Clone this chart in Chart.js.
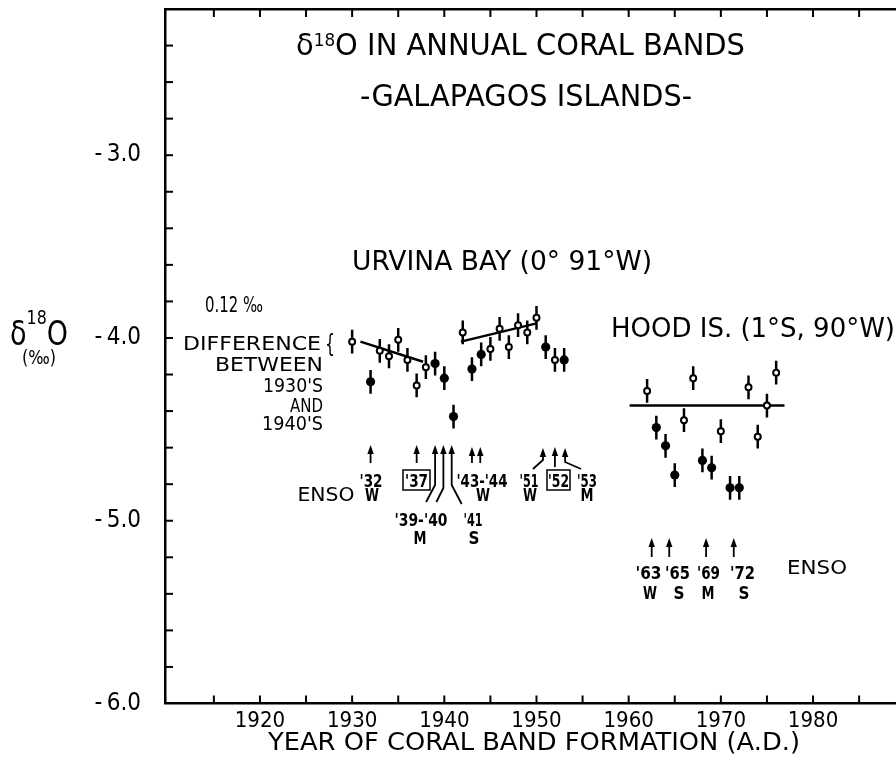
<!DOCTYPE html>
<html lang="en">
<head>
<meta charset="UTF-8">
<title>d18O in annual coral bands</title>
<script src="https://cdn.jsdelivr.net/npm/chart.js"></script>
<style>
    html, body { margin: 0; padding: 0; background: #fff; overflow: hidden; }
    canvas { display: block; }
</style>
</head>
<body>
<!-- a bit wider than the window: the plot runs off the right edge like the scan -->
<canvas id="coral" width="902" height="768"></canvas>
<script>
// values
const urvinaOpenYears = [1930, 1933, 1934, 1935, 1936, 1937, 1938, 1942, 1945, 1946, 1947, 1948, 1949, 1950, 1952];
const urvinaOpenD18O  = [-4.02, -4.07, -4.10, -4.01, -4.12, -4.26, -4.16, -3.97, -4.06, -3.95, -4.05, -3.93, -3.97, -3.89, -4.12];
const urvinaEnsoYears = [1932, 1939, 1940, 1941, 1943, 1944, 1951, 1953];
const urvinaEnsoD18O  = [-4.24, -4.14, -4.22, -4.43, -4.17, -4.09, -4.05, -4.12];
const hoodOpenYears = [1962, 1966, 1967, 1970, 1973, 1974, 1975, 1976];
const hoodOpenD18O  = [-4.29, -4.45, -4.22, -4.51, -4.27, -4.54, -4.37, -4.19];
const hoodEnsoYears = [1963, 1964, 1965, 1968, 1969, 1971, 1972];
const hoodEnsoD18O  = [-4.49, -4.59, -4.75, -4.67, -4.71, -4.82, -4.82];
const errorBar = 0.065;

const trend1930s = [[1930.9, -4.02], [1937.7, -4.13]];
const trend1940s = [[1941.8, -4.02], [1950.0, -3.92]];
const hoodMean   = [[1960.1, -4.37], [1976.9, -4.37]];

const yearLabels = [1920, 1930, 1940, 1950, 1960, 1970, 1980];
const d18OLabels = [-3, -4, -5, -6];

// where the ENSO arrows stand (years)
const urvinaArrowYears = [1932, 1937, 1939, 1939.9, 1940.8, 1943, 1943.9, 1950.7, 1952, 1953.1];
const hoodArrowYears   = [1962.5, 1964.4, 1968.4, 1971.4];

const FONT = '"DejaVu Sans", sans-serif';

function pts(xs, ys) { return xs.map((x, i) => ({ x: x, y: ys[i] })); }
function seg(pairs) { return pairs.map(p => ({ x: p[0], y: p[1] })); }

// error bars as one broken line
const barData = [];
[[urvinaOpenYears, urvinaOpenD18O], [urvinaEnsoYears, urvinaEnsoD18O],
 [hoodOpenYears, hoodOpenD18O], [hoodEnsoYears, hoodEnsoD18O]].forEach(s => {
    s[0].forEach((yr, i) => {
        barData.push({ x: yr, y: s[1][i] - errorBar });
        barData.push({ x: yr, y: s[1][i] + errorBar });
        barData.push({ x: yr, y: null });
    });
});

// arrow shapes: tip / end of shaft in px, optional bend
const urvinaArrowShape = [
    { tip: 445, base: 463 },
    { tip: 445, base: 463 },
    { tip: 445, base: 485, dx: -9, end: 502 },
    { tip: 445, base: 488, dx: -7, end: 502 },
    { tip: 445, base: 485, dx: 10, end: 504 },
    { tip: 447, base: 463 },
    { tip: 447, base: 463 },
    { tip: 448, base: 460, dx: -10, end: 469 },
    { tip: 447, base: 467 },
    { tip: 448, base: 462, dx: 16, end: 469 }
];

// [text, x, centre y, font size, width, align, bold]
const notes = [
    ['URVINA BAY (0\u00b0 91\u00b0W)', 502, 260, 27, 300, 'center', false],
    ['HOOD IS. (1\u00b0S, 90\u00b0W)', 611, 327, 27, 284, 'left', false],
    ['0.12 \u2030', 205, 304, 21, 58, 'left', false],
    ['DIFFERENCE', 183, 343, 20, 138, 'left', false],
    ['BETWEEN', 323, 364, 20, 108, 'right', false],
    ['1930\'S', 323, 385, 20, 60, 'right', false],
    ['AND', 323, 405, 20, 33, 'right', false],
    ['1940\'S', 323, 423, 20, 61, 'right', false],
    ['ENSO', 326, 494, 19, 57, 'center', false],
    ['\'32', 371, 480, 18, 23, 'center', true],
    ['W', 372, 494, 18, 14, 'center', true],
    ['\'37', 416.5, 480, 18, 23, 'center', true],
    ['\'43-\'44', 482, 480, 18, 51, 'center', true],
    ['W', 483, 494, 18, 14, 'center', true],
    ['\'39-\'40', 421, 519, 18, 53, 'center', true],
    ['M', 420, 537, 18, 13, 'center', true],
    ['\'41', 473, 519, 18, 19, 'center', true],
    ['S', 474, 537, 18, 11, 'center', true],
    ['\'51', 529, 480, 18, 19, 'center', true],
    ['W', 530, 494, 18, 14, 'center', true],
    ['\'52', 558.5, 480, 18, 21, 'center', true],
    ['\'53', 587, 480, 18, 20, 'center', true],
    ['M', 587, 494, 18, 13, 'center', true],
    ['\'63', 648.5, 572, 18, 26, 'center', true],
    ['\'65', 677.5, 572, 18, 25, 'center', true],
    ['\'69', 708.5, 572, 18, 23, 'center', true],
    ['\'72', 742.5, 572, 18, 25, 'center', true],
    ['W', 650, 592, 18, 14, 'center', true],
    ['S', 679, 592, 18, 11, 'center', true],
    ['M', 708, 592, 18, 13, 'center', true],
    ['S', 744, 592, 18, 11, 'center', true],
    ['ENSO', 817, 567, 19, 60, 'center', false],
    ['-GALAPAGOS ISLANDS-', 526, 95, 30, 332, 'center', false],
    ['YEAR OF CORAL BAND FORMATION (A.D.)', 534, 741, 24, 532, 'center', false]
];

function text(ctx, s, x, cy, size, w, align, bold) {
    ctx.save();
    ctx.font = (bold ? 'bold ' : '') + size + 'px ' + FONT;
    ctx.textAlign = 'left';
    ctx.textBaseline = 'alphabetic';
    const nat = ctx.measureText(s).width;
    const sx = w ? w / nat : 1;
    const tw = nat * sx;
    let left = x;
    if (align === 'center') left = x - tw / 2;
    if (align === 'right') left = x - tw;
    ctx.translate(left, cy + 0.365 * size);
    ctx.scale(sx, 1);
    ctx.fillStyle = '#000';
    ctx.fillText(s, 0, 0);
    ctx.restore();
}

// pieces: [text, size, raise]
function rich(ctx, parts, left, cy, bigSize, w) {
    ctx.save();
    let nat = 0;
    parts.forEach(p => { ctx.font = p[1] + 'px ' + FONT; nat += ctx.measureText(p[0]).width; });
    const sx = w / nat;
    ctx.translate(left, cy + 0.365 * bigSize);
    ctx.scale(sx, 1);
    ctx.fillStyle = '#000';
    let cx = 0;
    parts.forEach(p => {
        ctx.font = p[1] + 'px ' + FONT;
        ctx.fillText(p[0], cx, -p[2]);
        cx += ctx.measureText(p[0]).width;
    });
    ctx.restore();
}

function arrow(ctx, x, s) {
    ctx.beginPath();
    ctx.moveTo(x, s.tip + 6);
    ctx.lineTo(x, s.base);
    if (s.dx !== undefined) ctx.lineTo(x + s.dx, s.end);
    ctx.stroke();
    ctx.beginPath();
    ctx.moveTo(x, s.tip);
    ctx.lineTo(x - 3.2, s.tip + 9);
    ctx.lineTo(x + 3.2, s.tip + 9);
    ctx.closePath();
    ctx.fill();
}

function noPad(s) { s.paddingTop = 0; s.paddingBottom = 0; s.paddingLeft = 0; s.paddingRight = 0; }

const decor = {
    id: 'decor',
    afterDraw(chart) {
        const ctx = chart.ctx, a = chart.chartArea;
        const xs = chart.scales.x, ys = chart.scales.y;
        ctx.save();
        ctx.strokeStyle = '#000';
        ctx.fillStyle = '#000';
        ctx.lineWidth = 2;
        ctx.lineCap = 'butt';

        // inward tick marks
        xs.ticks.forEach(t => {
            const px = xs.getPixelForValue(t.value);
            if (px < a.left + 3) return;
            ctx.beginPath();
            ctx.moveTo(px, a.bottom); ctx.lineTo(px, a.bottom - 8);
            ctx.moveTo(px, a.top); ctx.lineTo(px, a.top + 8);
            ctx.stroke();
        });
        ys.ticks.forEach(t => {
            const py = ys.getPixelForValue(t.value);
            if (py < a.top + 3 || py > a.bottom - 3) return;
            ctx.beginPath();
            ctx.moveTo(a.left, py); ctx.lineTo(a.left + 8, py);
            ctx.stroke();
        });

        // ENSO arrows
        ctx.lineWidth = 1.8;
        urvinaArrowYears.forEach((yr, i) => arrow(ctx, xs.getPixelForValue(yr), urvinaArrowShape[i]));
        hoodArrowYears.forEach(yr => arrow(ctx, xs.getPixelForValue(yr), { tip: 538, base: 557 }));

        // boxed years
        ctx.lineWidth = 1.5;
        ctx.strokeRect(403, 470, 27, 20);
        ctx.strokeRect(547, 470, 23, 20);
        ctx.restore();

        // title
        rich(ctx, [['\u03b4', 31, 0], ['18', 18, 9], ['O IN ANNUAL CORAL BANDS', 31, 0]], 296, 44, 31, 449);
        // y title
        rich(ctx, [['\u03b4', 34, 0], ['18', 20, 21], ['O', 34, 0]], 10, 333, 34, 58);
        text(ctx, '(\u2030)', 39, 357, 19, 34, 'center', false);
        // brace
        text(ctx, '{', 330, 343, 24, 10, 'center', false);

        notes.forEach(n => text(ctx, n[0], n[1], n[2], n[3], n[4], n[5], n[6]));
    }
};

const openStyle = { pointStyle: 'circle', pointRadius: 3, pointBorderWidth: 2, pointBackgroundColor: '#fff', pointBorderColor: '#000', showLine: false };
const fillStyle = { pointStyle: 'circle', pointRadius: 4.6, pointBorderWidth: 0, pointBackgroundColor: '#000', pointBorderColor: '#000', showLine: false };
const lineStyle = { type: 'line', borderColor: '#000', borderWidth: 2.5, pointRadius: 0, spanGaps: false, fill: false };

new Chart(document.getElementById('coral'), {
    type: 'scatter',
    data: {
        datasets: [
            Object.assign({ label: 'Urvina Bay', data: pts(urvinaOpenYears, urvinaOpenD18O), order: 0 }, openStyle),
            Object.assign({ label: 'Urvina Bay ENSO', data: pts(urvinaEnsoYears, urvinaEnsoD18O), order: 0 }, fillStyle),
            Object.assign({ label: 'Hood Is.', data: pts(hoodOpenYears, hoodOpenD18O), order: 0 }, openStyle),
            Object.assign({ label: 'Hood Is. ENSO', data: pts(hoodEnsoYears, hoodEnsoD18O), order: 0 }, fillStyle),
            Object.assign({ label: 'error', data: barData, order: 1 }, lineStyle),
            Object.assign({ label: '1930s', data: seg(trend1930s), order: 1 }, lineStyle),
            Object.assign({ label: '1940s', data: seg(trend1940s), order: 1 }, lineStyle),
            Object.assign({ label: 'Hood mean', data: seg(hoodMean), order: 1 }, lineStyle)
        ]
    },
    options: {
        responsive: false,
        animation: false,
        devicePixelRatio: 1,
        layout: { padding: 0 },
        plugins: { legend: { display: false }, tooltip: { enabled: false } },
        scales: {
            x: {
                type: 'linear', position: 'bottom', min: 1909.7, max: 1989,
                grid: { display: false },
                border: { display: true, color: '#000', width: 2.5 },
                ticks: {
                    stepSize: 5, includeBounds: false, autoSkip: false, maxRotation: 0,
                    color: '#000', padding: -3,
                    font: { family: '"Liberation Sans Narrow", "DejaVu Sans Condensed", sans-serif', size: 22 },
                    callback: v => yearLabels.includes(Math.round(v)) && Math.abs(v - Math.round(v)) < 1e-6 ? String(Math.round(v)) : ''
                },
                afterFit: s => { s.height = 64.5; noPad(s); }
            },
            x2: {
                type: 'linear', position: 'top', min: 1909.7, max: 1989,
                grid: { display: false },
                border: { display: true, color: '#000', width: 2.5 },
                ticks: { display: false },
                afterFit: s => { s.height = 9; noPad(s); }
            },
            y: {
                min: -6, max: -2.2,
                grid: { display: false },
                border: { display: true, color: '#000', width: 2.5 },
                ticks: {
                    stepSize: 0.2, autoSkip: false, color: '#000', padding: 16,
                    font: { family: '"DejaVu Sans Condensed", sans-serif', size: 24 },
                    callback: v => {
                        const r = Math.round(v);
                        return d18OLabels.includes(r) && Math.abs(v - r) < 1e-6 ? '-\u2009' + Math.abs(r).toFixed(1) : '';
                    }
                },
                afterFit: s => { s.width = 165; noPad(s); }
            }
        }
    },
    plugins: [decor]
});
</script>
</body>
</html>
